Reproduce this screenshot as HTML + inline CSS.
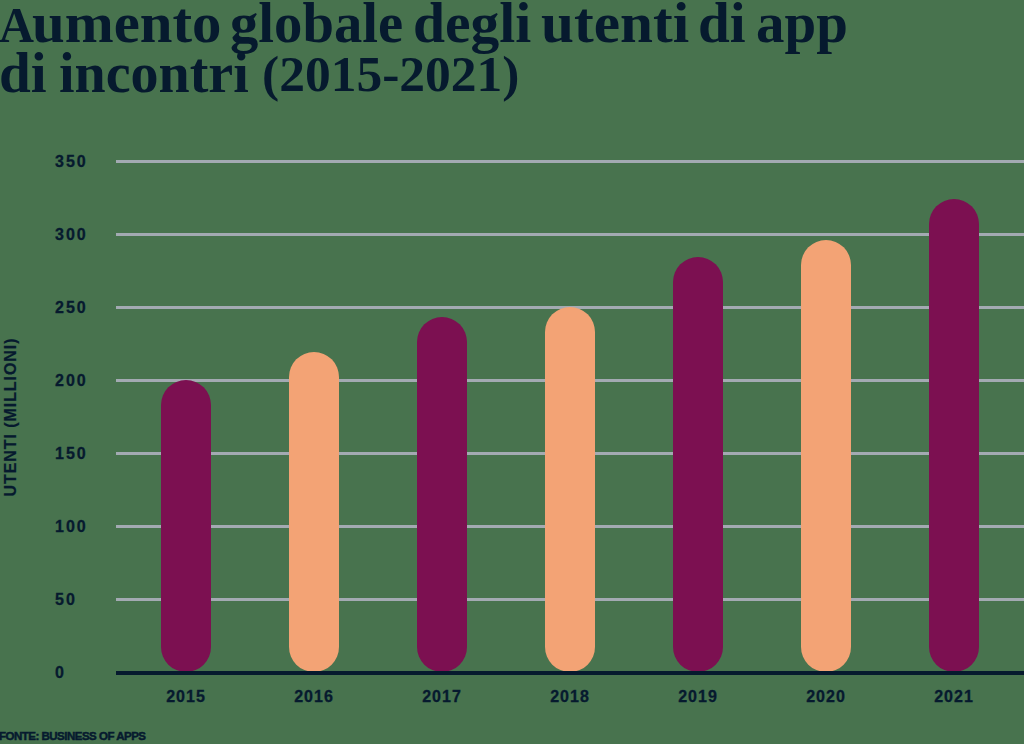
<!DOCTYPE html>
<html><head><meta charset="utf-8">
<style>
html,body{margin:0;padding:0}
body{width:1024px;height:744px;overflow:hidden;background:#48734E;position:relative;font-family:"Liberation Sans",sans-serif;color:#061A2E}
.w{position:absolute;font-family:"Liberation Serif",serif;font-weight:bold;font-size:56px;line-height:90px;white-space:nowrap;color:#061A2E;transform-origin:0 0}
.l1{top:-22px}
.l2{top:28px}
.g{position:absolute;left:116px;width:908px;height:3px;background:#A3AAB2}
.base{position:absolute;left:116px;width:908px;top:671px;height:4px;background:#061A2E}
.bar{position:absolute;width:50px;border-radius:25px}
.p{background:#7C1051}
.o{background:#F3A375}
.yl{position:absolute;left:55px;font-weight:bold;font-size:16px;line-height:16px;letter-spacing:2px;white-space:nowrap;-webkit-text-stroke:0.3px #061A2E}
.xl{position:absolute;width:100px;text-align:center;font-weight:bold;font-size:16px;line-height:16px;letter-spacing:1px;white-space:nowrap;-webkit-text-stroke:0.3px #061A2E}
.ytitle{position:absolute;left:11px;top:417px;transform:translate(-50%,-50%) rotate(-90deg);font-weight:bold;font-size:16px;line-height:16px;letter-spacing:0.93px;white-space:nowrap;-webkit-text-stroke:0.2px #061A2E}
.foot{position:absolute;left:-1px;top:730px;font-weight:bold;font-size:11.5px;line-height:12px;letter-spacing:-0.5px;white-space:nowrap;-webkit-text-stroke:0.5px #061A2E}
</style></head><body>
<div class="w l1" style="top:-20px;left:-1px;font-size:51px;transform:scaleX(0.95)">A</div>
<div class="w l1" style="left:32px;transform:scaleX(1.05)">umento</div>
<div class="w l1" style="left:230px;transform:scaleX(1.012)">globale</div>
<div class="w l1" style="left:413px;transform:scaleX(1.027)">degli</div>
<div class="w l1" style="left:541px;transform:scaleX(1.058)">utenti</div>
<div class="w l1" style="left:698px;transform:scaleX(1.02)">di</div>
<div class="w l1" style="left:756px;transform:scaleX(1.017)">app</div>
<div class="w l2" style="left:-1px;transform:scaleX(1.02)">di</div>
<div class="w l2" style="left:59px">incontri</div>
<div class="w l2" style="top:29px;left:262px;font-size:50px;transform:scaleX(1.03)">(2015-2021)</div>

<div class="g" style="top:160px"></div>
<div class="g" style="top:233px"></div>
<div class="g" style="top:306px"></div>
<div class="g" style="top:379px"></div>
<div class="g" style="top:452px"></div>
<div class="g" style="top:525px"></div>
<div class="g" style="top:598px"></div>

<div class="bar p" style="left:161px;top:379.5px;height:292.5px"></div>
<div class="bar o" style="left:289px;top:352px;height:320px"></div>
<div class="bar p" style="left:417px;top:317px;height:355px"></div>
<div class="bar o" style="left:545px;top:307px;height:365px"></div>
<div class="bar p" style="left:673px;top:257px;height:415px"></div>
<div class="bar o" style="left:801px;top:240px;height:432px"></div>
<div class="bar p" style="left:929px;top:199px;height:473px"></div>

<div class="base"></div>

<div class="yl" style="top:154px">350</div>
<div class="yl" style="top:227px">300</div>
<div class="yl" style="top:300px">250</div>
<div class="yl" style="top:373px">200</div>
<div class="yl" style="top:446px">150</div>
<div class="yl" style="top:519px">100</div>
<div class="yl" style="top:592px">50</div>
<div class="yl" style="top:665px">0</div>

<div class="xl" style="left:136px;top:689px">2015</div>
<div class="xl" style="left:264px;top:689px">2016</div>
<div class="xl" style="left:392px;top:689px">2017</div>
<div class="xl" style="left:520px;top:689px">2018</div>
<div class="xl" style="left:648px;top:689px">2019</div>
<div class="xl" style="left:776px;top:689px">2020</div>
<div class="xl" style="left:904px;top:689px">2021</div>

<div class="ytitle">UTENTI (MILLIONI)</div>
<div class="foot">FONTE: BUSINESS OF APPS</div>
</body></html>
